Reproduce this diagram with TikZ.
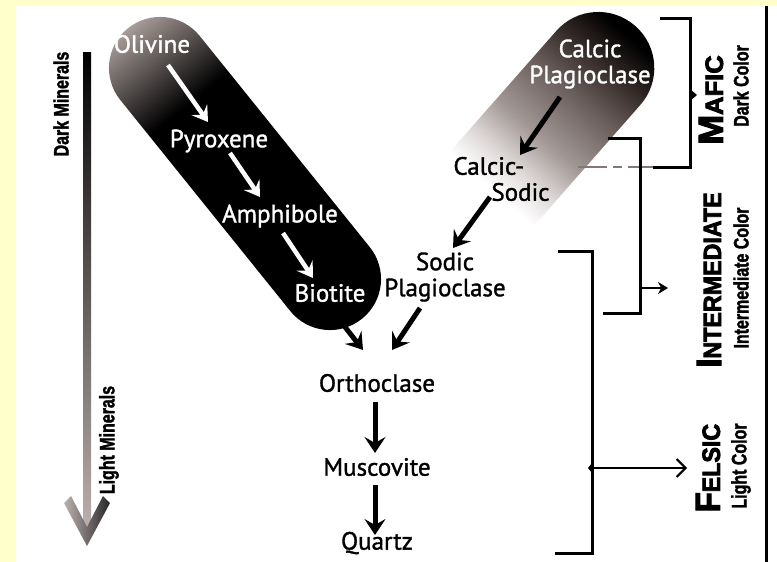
\documentclass[tikz,border=0pt]{standalone}
\usepackage{fontspec}
\setmainfont{PT Sans}
\newfontfamily\condfont[FakeStretch=0.76,FakeBold=1.6]{Liberation Sans}
\newfontfamily\heavyfont[FakeStretch=0.93,FakeBold=3]{Liberation Sans}
\usetikzlibrary{arrows.meta,calc}
\definecolor{pagebg}{RGB}{255,255,204}
\definecolor{olivlight}{RGB}{168,156,153}
\definecolor{calcA}{RGB}{50,40,38}
\definecolor{calcB}{RGB}{105,93,90}
\definecolor{calcC}{RGB}{160,150,147}
\definecolor{calcD}{RGB}{225,220,219}
\definecolor{arrlight}{RGB}{188,178,175}
\definecolor{dashgray}{RGB}{130,120,118}
\pgfdeclarehorizontalshading{olivshade}{100bp}{color(0bp)=(olivlight); color(25bp)=(olivlight); color(38bp)=(black); color(100bp)=(black)}
\pgfdeclarehorizontalshading{calcshade}{100bp}{color(0bp)=(white); color(39bp)=(white); color(44bp)=(calcD); color(51bp)=(calcC); color(60bp)=(calcB); color(67bp)=(calcA); color(73bp)=(black); color(100bp)=(black)}
\tikzset{
 mineral/.style={font=\fontsize{25}{26}\selectfont\addfontfeature{FakeBold=1.3}, inner sep=1pt, align=center},
 whitelbl/.style={mineral, text=white},
 warr/.style={draw=white, line width=4.5pt, -{Stealth[length=15pt,width=19pt,inset=6pt]}},
 barr/.style={draw=black, line width=5pt, -{Stealth[length=16pt,width=21pt,inset=6pt]}},
 bracket/.style={draw=black, line width=3pt, line cap=butt, line join=miter},
 sidelbl/.style={font=\condfont\bfseries\fontsize{21}{21}\selectfont, rotate=90, inner sep=0pt},
 biglbl/.style={font=\heavyfont\bfseries, rotate=90, inner sep=0pt},
}
\newcommand\capword[2]{{\fontsize{35}{35}\selectfont #1}{\fontsize{25}{25}\selectfont #2}}
\begin{document}
\begin{tikzpicture}[x=1pt,y=-1pt]
\useasboundingbox (0,0) rectangle (777,562);
\fill[pagebg] (0,0) rectangle (777,562);
\fill[white] (16,6) rectangle (777,562);
\fill[black] (765,6) rectangle (768,562);
% left gradient arrow
\shade[top color=black, bottom color=arrlight] (83,52) rectangle (91,532);
\shade[left color=arrlight, right color=black!85] (64,503) -- (71,496) -- (87,527) -- (103,496) -- (110,503) -- (87,546) -- cycle;
% Olivine pill
\begin{scope}[transform canvas={shift={(245,173.5)},rotate=-51.15}]
\shade[shading=olivshade, rounded corners=50.9pt] (-186.5,-51) rectangle (186.5,51);
\end{scope}
% Calcic pill
\begin{scope}[transform canvas={shift={(535.5,139.3)},rotate=48.65}]
\shade[shading=calcshade, rounded corners=55.9pt] (-151,-56) rectangle (151,56);
\end{scope}
% minerals
\node[whitelbl] (oli) at (152,44) {Olivine};
\node[whitelbl] (pyr) at (219,141) {Pyroxene};
\node[whitelbl] (amp) at (280,216) {Amphibole};
\node[whitelbl] (bio) at (330,293) {Biotite};
\node[whitelbl] (cpl) at (590,64) {Calcic\\Plagioclase};
\node[mineral, align=left] (cso) at (501.5,179) {Calcic-\\\hspace*{38pt}Sodic};
\node[mineral] (spl) at (445,277) {Sodic\\Plagioclase};
\node[mineral] (ort) at (377,383) {Orthoclase};
\node[mineral] (mus) at (377,467) {Muscovite};
\node[mineral] (qua) at (377,543) {Quartz};
% arrows
\draw[warr] ($(oli)+(16,21)$) -- ($(pyr)+(-11,-19)$);
\draw[warr] ($(pyr)+(11,12)$) -- ($(amp)+(-20,-19)$);
\draw[warr] ($(amp)+(3,17)$) -- ($(bio)+(-17,-15)$);
\draw[barr] ($(cpl)+(-30,33)$) -- ($(cso)+(18.5,-24)$);
\draw[barr] ($(cso)+(-11.5,18)$) -- ($(spl)+(8,-29)$);
\draw[barr] ($(bio)+(15,34)$) -- ($(ort)+(-14,-33)$);
\draw[barr] ($(spl)+(-25,31)$) -- ($(ort)+(15,-33)$);
\draw[barr] ($(ort)+(-2,19)$) -- ($(mus)+(-2,-14)$);
\draw[barr] ($(mus)+(-2,18)$) -- ($(qua)+(-2,-8)$);
% brackets
\draw[bracket] (660,18) -- (690,18) -- (690,167) -- (653,167);
\fill (690,89) -- (697,95) -- (690,101) -- cycle;
\draw[dashgray, line width=1.5pt, dash pattern=on 29pt off 6pt on 9pt off 6pt] (578,167) -- (653,167);
\draw[bracket] (608,138) -- (640,138) -- (640,313) -- (603,313);
\draw[line width=2.5pt, -{Stealth[length=10pt,width=12pt]}] (640,288) -- (668,288);
\draw[bracket] (558,251) -- (592,251) -- (592,553) -- (555,553);
\fill (592,463) -- (588,468) -- (592,473) -- cycle;
\draw[line width=2pt, -{Straight Barb[length=9pt,width=18pt,line width=2pt]}] (592,468) -- (687,468);
% right labels
\node[biglbl] (maf) at (711,100) {\scalebox{1.1}[1]{\capword{M}{AFIC}}};
\node[sidelbl] (dkc) at (741,86) {Dark Color};
\node[biglbl] (int) at (709,280) {\capword{I}{NTERMEDIATE}};
\node[sidelbl] (imc) at (741,278) {Intermediate Color};
\node[biglbl] (fel) at (708,468) {\capword{F}{ELSIC}};
\node[sidelbl] (ltc) at (741,466) {Light Color};
\node[sidelbl] (dkm) at (61,104) {Dark Minerals};
\node[sidelbl] (ltm) at (109,440) {Light Minerals};
\end{tikzpicture}
\end{document}
